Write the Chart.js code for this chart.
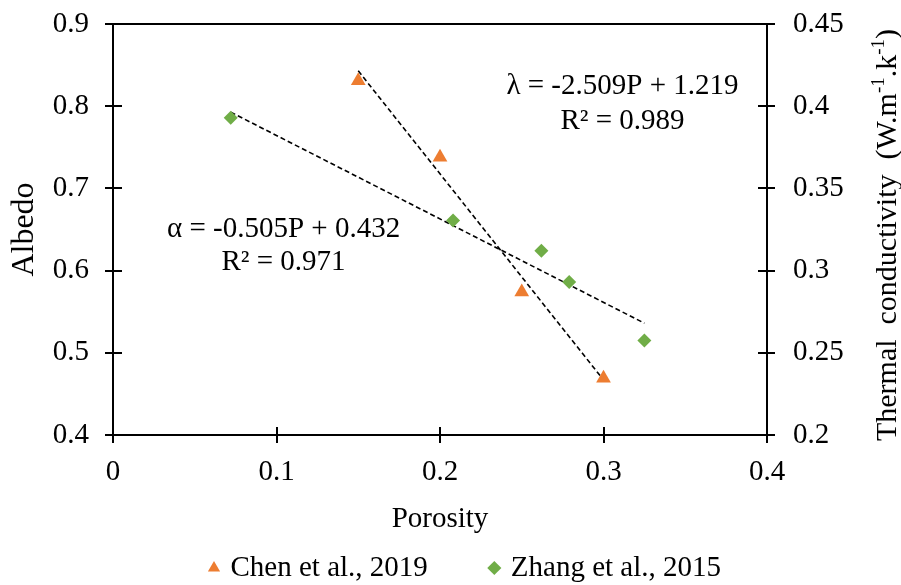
<!DOCTYPE html>
<html><head><meta charset="utf-8">
<script src="https://cdn.jsdelivr.net/npm/chart.js@4.4.1/dist/chart.umd.min.js"></script>
<style>html,body{margin:0;padding:0;background:#fff;}</style>
</head><body>
<canvas id="c" width="901" height="585"></canvas>
<script>
const chenPorosity = [0.15, 0.20, 0.25, 0.30];
const chenAlbedo = [0.831, 0.738, 0.574, 0.469];
const zhangPorosity = [0.072, 0.208, 0.262, 0.279, 0.325];
const zhangConductivity = [0.393, 0.3305, 0.312, 0.293, 0.2575];
const chenTrendX = [0.15, 0.30];
const chenTrendY = [0.843, 0.467];
const zhangTrendX = [0.072, 0.325];
const zhangTrendY = [0.3964, 0.268];
const xTickLabels = ['0', '0.1', '0.2', '0.3', '0.4'];
const yTickLabels = ['0.4', '0.5', '0.6', '0.7', '0.8', '0.9'];
const y2TickLabels = ['0.2', '0.25', '0.3', '0.35', '0.4', '0.45'];
const seriesNames = ['Chen et al., 2019', 'Zhang et al., 2015'];
const equationTexts = ['λ = -2.509P + 1.219', 'R² = 0.989', 'α = -0.505P + 0.432', 'R² = 0.971'];
const equationX = [0.3116, 0.3116, 0.1043, 0.1043];
const equationY = [0.8247, 0.781, 0.6497, 0.6096];

const FONT = 'Liberation Serif, Times New Roman, serif';
const ORANGE = '#ED7D31';
const GREEN = '#70AD47';

const pts = (xs, ys) => xs.map((x, i) => ({x, y: ys[i]}));

const decorations = {
  id: 'decorations',
  afterDraw(chart) {
    const {ctx, chartArea: a, scales} = chart;
    ctx.save();
    ctx.strokeStyle = '#000';
    ctx.lineWidth = 2;
    ctx.beginPath();
    ctx.moveTo(a.left, a.top);
    ctx.lineTo(a.right, a.top);
    scales.x.ticks.forEach(t => {
      const px = Math.round(scales.x.getPixelForValue(t.value));
      ctx.moveTo(px, a.bottom); ctx.lineTo(px, a.bottom - 8);
    });
    scales.y.ticks.forEach(t => {
      const py = Math.round(scales.y.getPixelForValue(t.value));
      ctx.moveTo(a.left, py); ctx.lineTo(a.left + 9, py);
    });
    scales.y2.ticks.forEach(t => {
      const py = Math.round(scales.y2.getPixelForValue(t.value));
      ctx.moveTo(a.right, py); ctx.lineTo(a.right - 9, py);
    });
    ctx.stroke();

    // equations
    ctx.fillStyle = '#000';
    ctx.font = '29px ' + FONT;
    ctx.textAlign = 'center';
    ctx.textBaseline = 'middle';
    equationTexts.forEach((t, i) => {
      ctx.fillText(t, scales.x.getPixelForValue(equationX[i]), scales.y.getPixelForValue(equationY[i]));
    });

    // right axis title with superscripts
    const segs = [
      {t: 'Thermal  conductivity  (W.m', s: false},
      {t: '-1', s: true},
      {t: '.k', s: false},
      {t: '-1', s: true},
      {t: ')', s: false}
    ];
    const big = '30px ' + FONT, small = '19px ' + FONT;
    let total = 0;
    segs.forEach(g => { ctx.font = g.s ? small : big; g.w = ctx.measureText(g.t).width; total += g.w; });
    ctx.translate(chart.width - 15, 235);
    ctx.rotate(-Math.PI / 2);
    ctx.textAlign = 'left';
    ctx.textBaseline = 'alphabetic';
    let x = -total / 2;
    segs.forEach(g => {
      ctx.font = g.s ? small : big;
      ctx.fillText(g.t, x, g.s ? -2 : 10);
      x += g.w;
    });
    ctx.restore();
  }
};

const noPad = s => { s.paddingTop = 0; s.paddingBottom = 0; s.paddingLeft = 0; s.paddingRight = 0; };

new Chart(document.getElementById('c'), {
  type: 'scatter',
  data: {
    datasets: [
      {label: seriesNames[0], data: pts(chenPorosity, chenAlbedo), yAxisID: 'y',
        pointStyle: 'triangle', pointRadius: 8.5, backgroundColor: ORANGE, borderColor: ORANGE, borderWidth: 0},
      {label: seriesNames[1], data: pts(zhangPorosity, zhangConductivity), yAxisID: 'y2',
        pointStyle: 'rectRot', pointRadius: 7, backgroundColor: GREEN, borderColor: GREEN, borderWidth: 0},
      {label: 'trend1', data: pts(chenTrendX, chenTrendY), yAxisID: 'y', showLine: true,
        pointRadius: 0, borderColor: '#000', borderWidth: 1.6, borderDash: [5, 3], fill: false},
      {label: 'trend2', data: pts(zhangTrendX, zhangTrendY), yAxisID: 'y2', showLine: true,
        pointRadius: 0, borderColor: '#000', borderWidth: 1.6, borderDash: [5, 3], fill: false}
    ]
  },
  options: {
    responsive: false,
    animation: false,
    layout: {autoPadding: false, padding: {top: 24, left: 32, right: 0, bottom: -7.5}},
    plugins: {
      tooltip: {enabled: false},
      legend: {
        position: 'bottom',
        labels: {
          usePointStyle: true, boxWidth: 4, boxHeight: 10, padding: 64.5,
          color: '#000', font: {family: FONT, size: 29},
          filter: item => item.datasetIndex < 2
        }
      }
    },
    scales: {
      x: {
        type: 'linear', min: 0, max: 0.4,
        afterFit: s => { s.height = 54; noPad(s); },
        afterBuildTicks: s => { s.ticks = xTickLabels.map((l, i) => ({value: i * 0.1})); },
        ticks: {padding: 12, color: '#000', font: {family: FONT, size: 29},
          callback: (v, i) => xTickLabels[i]},
        grid: {drawOnChartArea: false, drawTicks: true, tickLength: 8, color: '#000', lineWidth: 2},
        border: {display: true, color: '#000', width: 2},
        title: {display: true, text: 'Porosity', color: '#000', font: {family: FONT, size: 29},
          padding: {top: 0, bottom: -48}}
      },
      y: {
        type: 'linear', position: 'left', min: 0.4, max: 0.9,
        afterFit: s => { s.width = 81; noPad(s); },
        afterBuildTicks: s => { s.ticks = yTickLabels.map((l, i) => ({value: 0.4 + i * 0.1})); },
        ticks: {padding: 16, color: '#000', font: {family: FONT, size: 29},
          callback: (v, i) => yTickLabels[i]},
        grid: {drawOnChartArea: false, drawTicks: true, tickLength: 8, color: '#000', lineWidth: 2},
        border: {display: true, color: '#000', width: 2},
        title: {display: true, text: 'Albedo', color: '#000', font: {family: FONT, size: 32},
          padding: {top: -27, bottom: 0}}
      },
      y2: {
        type: 'linear', position: 'right', min: 0.2, max: 0.45,
        afterFit: s => { s.width = 134; noPad(s); },
        afterBuildTicks: s => { s.ticks = y2TickLabels.map((l, i) => ({value: 0.2 + i * 0.05})); },
        ticks: {padding: 18, color: '#000', font: {family: FONT, size: 29},
          callback: (v, i) => y2TickLabels[i]},
        grid: {drawOnChartArea: false, drawTicks: true, tickLength: 8, color: '#000', lineWidth: 2},
        border: {display: true, color: '#000', width: 2}
      }
    }
  },
  plugins: [decorations]
});
</script>
</body></html>
